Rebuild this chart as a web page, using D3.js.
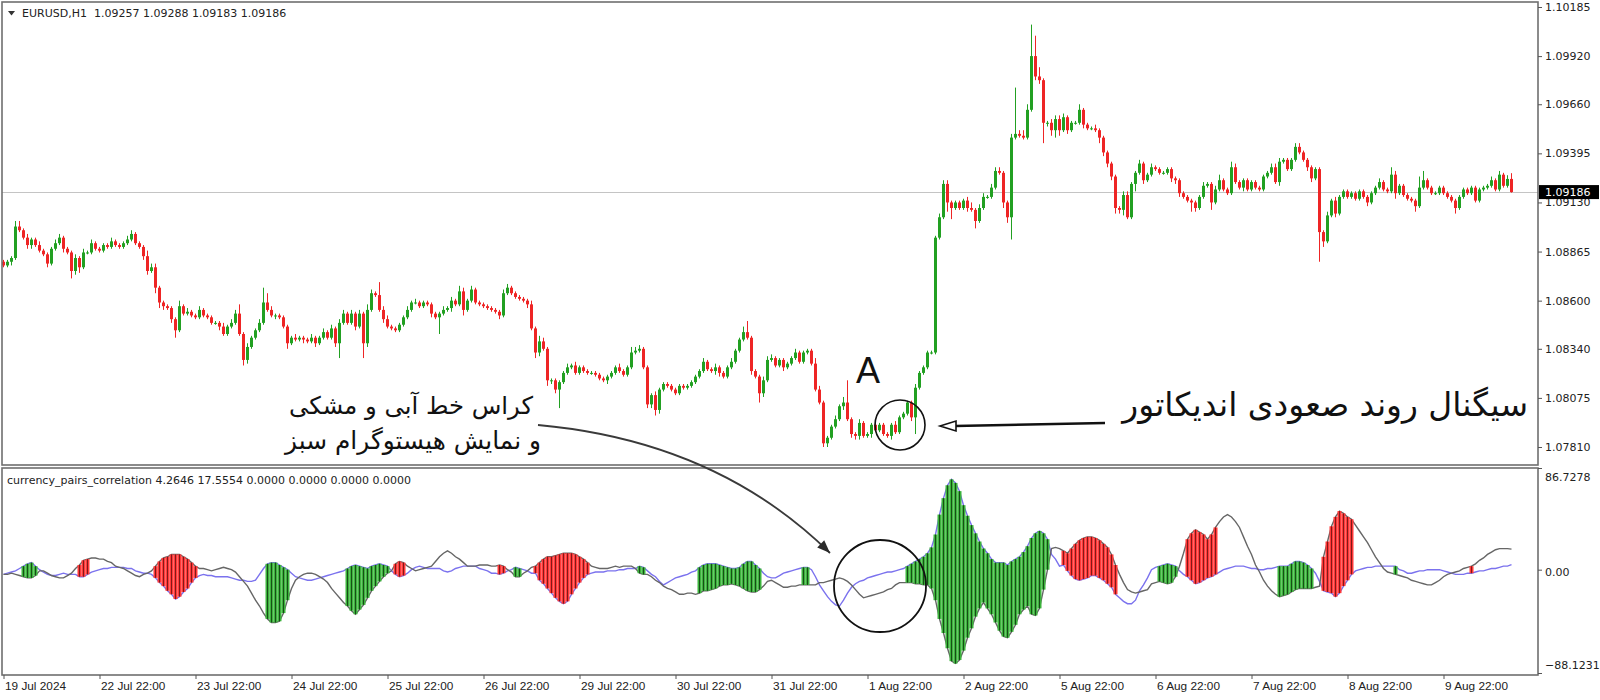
<!DOCTYPE html>
<html><head><meta charset="utf-8">
<script src="https://cdn.jsdelivr.net/npm/d3@7"></script>
<style>body{margin:0;background:#fff;}svg{display:block;}</style>
</head><body>
<svg id="chart" width="1600" height="700"></svg>
<script>
// ---------------- DATA ----------------
const symbolLabel = "EURUSD,H1";
const lastBarOHLC = [1.09257, 1.09288, 1.09183, 1.09186];
const firstOpen = 1.0881;
// hourly closes, 19 Jul 2024 22:00 -> 9 Aug 2024
const closes = [
1.0879,1.0881,1.0883,1.0900,1.0898,1.0894,1.0890,1.0893,1.0890,1.0887,1.0885,1.0880,1.0888,1.0891,1.0894,1.0888,1.0886,1.0876,1.0883,1.0878,1.0886,1.0886,1.0891,1.0888,
1.0887,1.0890,1.0889,1.0892,1.0890,1.0889,1.0891,1.0893,1.0896,1.0891,1.0889,1.0884,1.0876,1.0878,1.0867,1.0859,1.0857,1.0856,1.0850,1.0844,1.0857,1.0853,1.0854,1.0852,
1.0851,1.0855,1.0852,1.0851,1.0848,1.0848,1.0846,1.0842,1.0846,1.0848,1.0853,1.0842,1.0828,1.0835,1.0840,1.0844,1.0848,1.0859,1.0855,1.0852,1.0852,1.0851,1.0846,1.0837,
1.0840,1.0839,1.0840,1.0839,1.0838,1.0840,1.0837,1.0840,1.0843,1.0840,1.0845,1.0837,1.0848,1.0853,1.0848,1.0853,1.0846,1.0853,1.0837,1.0855,1.0864,1.0863,1.0855,1.0850,
1.0846,1.0845,1.0844,1.0847,1.0851,1.0855,1.0859,1.0859,1.0857,1.0859,1.0858,1.0853,1.0851,1.0853,1.0855,1.0856,1.0860,1.0858,1.0865,1.0855,1.0860,1.0866,1.0859,1.0858,
1.0857,1.0856,1.0855,1.0854,1.0852,1.0864,1.0867,1.0864,1.0862,1.0861,1.0860,1.0858,1.0845,1.0832,1.0838,1.0834,1.0817,1.0817,1.0812,1.0816,1.0821,1.0824,1.0825,1.0821,
1.0824,1.0822,1.0821,1.0821,1.0820,1.0818,1.0817,1.0819,1.0821,1.0824,1.0822,1.0820,1.0824,1.0832,1.0833,1.0834,1.0824,1.0804,1.0809,1.0801,1.0812,1.0815,1.0814,1.0812,
1.0810,1.0814,1.0813,1.0814,1.0816,1.0819,1.0822,1.0827,1.0823,1.0822,1.0824,1.0821,1.0819,1.0824,1.0827,1.0833,1.0839,1.0843,1.0840,1.0822,1.0819,1.0810,1.0817,1.0828,
1.0829,1.0825,1.0828,1.0824,1.0826,1.0829,1.0832,1.0827,1.0832,1.0833,1.0826,1.0812,1.0805,1.0783,1.0786,1.0792,1.0796,1.0803,1.0805,1.0796,1.0788,1.0787,1.0794,1.0787,
1.0788,1.0793,1.0790,1.0793,1.0788,1.0787,1.0793,1.0789,1.0797,1.0799,1.0805,1.0797,1.0813,1.0821,1.0824,1.0832,1.0832,1.0894,1.0905,1.0923,1.0913,1.0910,1.0913,1.0910,
1.0914,1.0910,1.0909,1.0903,1.0910,1.0916,1.0916,1.0921,1.0930,1.0929,1.0913,1.0905,1.0948,1.0950,1.0949,1.0948,1.0963,1.0992,1.0981,1.0979,1.0956,1.0956,1.0952,1.0958,
1.0952,1.0959,1.0952,1.0956,1.0956,1.0963,1.0955,1.0953,1.0953,1.0952,1.0948,1.0940,1.0934,1.0927,1.0910,1.0909,1.0917,1.0905,1.0923,1.0929,1.0934,1.0925,1.0928,1.0932,
1.0931,1.0929,1.0929,1.0931,1.0926,1.0925,1.0918,1.0916,1.0914,1.0913,1.0910,1.0916,1.0922,1.0923,1.0913,1.0920,1.0925,1.0920,1.0918,1.0932,1.0924,1.0921,1.0925,1.0920,
1.0924,1.0921,1.0920,1.0927,1.0929,1.0932,1.0924,1.0935,1.0936,1.0931,1.0936,1.0943,1.0940,1.0936,1.0932,1.0926,1.0931,1.0897,1.0892,1.0906,1.0914,1.0907,1.0916,1.0919,
1.0916,1.0918,1.0915,1.0919,1.0916,1.0913,1.0918,1.0921,1.0924,1.0920,1.0919,1.0928,1.0918,1.0922,1.0917,1.0915,1.0914,1.0911,1.0921,1.0925,1.0921,1.0918,1.0918,1.0921,
1.0918,1.0916,1.0914,1.0910,1.0916,1.0920,1.0918,1.0921,1.0914,1.0920,1.0921,1.0922,1.0925,1.0920,1.0928,1.0922,1.09257,1.09186
];
// upper / lower wick lengths in pips
const upperWickPips = [
1,1,1,3,3,1,2,1,1,2,1,1,1,2,2,1,1,1,2,1,2,1,2,1,
1,1,1,2,1,1,1,2,2,1,1,1,3,2,2,1,1,1,1,1,3,1,2,1,
1,2,1,1,1,1,1,2,1,2,2,5,1,2,1,1,2,8,5,2,1,1,1,1,
1,2,1,1,1,2,1,1,2,1,2,1,2,2,1,2,1,2,1,3,2,1,7,2,
2,1,1,1,1,2,1,2,1,1,1,1,1,1,2,1,2,1,3,2,1,2,1,1,
1,1,1,1,1,2,2,1,1,1,1,1,2,1,3,2,1,1,1,1,1,2,1,2,
1,1,1,1,1,1,1,1,1,1,2,1,1,3,2,2,1,1,1,2,1,1,1,1,
1,1,1,1,1,1,1,2,1,1,2,1,1,1,2,1,1,3,6,1,1,1,2,2,
2,1,1,1,1,1,2,1,1,1,1,3,2,1,1,1,2,1,3,12,1,1,2,1,
1,1,1,1,1,1,1,2,1,1,1,1,2,1,1,1,1,1,2,2,2,1,1,1,
1,2,3,1,2,2,1,2,2,2,1,1,2,25,2,3,3,17,11,5,1,1,2,2,
2,2,1,1,1,3,1,1,1,2,1,1,1,1,1,1,2,2,1,1,2,1,1,2,
1,1,1,1,1,1,1,1,1,1,1,1,2,1,1,2,3,1,1,3,2,1,1,1,
1,1,1,1,1,2,2,2,1,1,1,2,2,1,1,1,1,1,1,2,1,2,1,1,
1,1,1,1,1,1,1,1,2,1,1,4,2,1,1,1,1,1,6,5,1,1,1,1,
1,1,1,1,1,1,1,1,1,1,1,1,2,1,2,1,2,3.1
];
const lowerWickPips = [
1,1,2,1,1,1,2,2,1,1,1,2,1,1,1,2,1,4,2,3,1,1,1,1,
1,1,1,1,1,1,1,1,1,1,1,2,2,1,3,3,2,1,2,4,1,1,1,1,
1,1,1,1,1,1,2,1,1,1,1,1,3,2,1,1,1,1,1,1,2,1,1,3,
1,1,1,2,1,1,2,1,1,1,1,2,8,1,1,1,2,1,8,2,1,1,1,2,
1,1,1,1,1,1,1,1,1,1,1,2,1,9,1,1,2,1,1,3,1,1,1,1,
1,1,1,1,2,1,1,1,1,1,1,2,1,3,2,1,3,2,2,10,1,1,1,1,
1,1,1,1,1,1,1,2,1,1,1,1,1,1,1,1,1,2,2,3,2,1,1,1,
1,1,1,1,1,1,1,1,1,1,2,2,1,1,1,1,1,1,1,2,1,5,2,1,
1,1,1,2,1,1,1,1,1,1,1,1,1,2,2,1,1,1,2,1,2,2,2,1,
1,2,1,1,1,1,2,1,1,1,1,2,9,1,1,1,1,1,1,1,5,6,1,1,
1,2,1,4,1,1,1,1,1,1,3,3,12,1,1,1,1,1,2,2,11,2,3,4,
3,1,2,1,1,1,2,1,1,1,3,2,2,2,3,2,3,1,1,4,1,2,1,1,
1,1,1,1,2,2,2,1,1,5,2,1,1,1,4,1,1,1,1,1,1,1,2,1,
1,1,1,1,1,1,1,2,1,1,1,1,1,1,2,2,1,16,3,1,1,2,1,1,
1,1,1,1,1,2,1,1,1,1,1,1,3,1,1,1,1,3,1,1,1,1,1,1,
1,1,1,3,1,1,1,1,1,1,1,1,1,1,1,1,1,0.3
];
// indicator: currency_pairs_correlation
const indicatorName = "currency_pairs_correlation";
const blueLine = [
-4,-3,-2,-1,1,3,5,6,3,0,-2,-4,-5,-5,-4,-3,-4,-4,-4,-6,-6,-4,-2,-1,
0,1,1,2,2,2,2,1,1,-1,-2,-3,-3,-4,-7,-11,-14,-18,-21,-25,-23,-19,-16,-11,
-7,-5,-4,-5,-5,-6,-6,-6,-6,-7,-8,-9,-9,-10,-10,-9,-4,1,5,6,6,4,2,0,
-3,-6,-7,-8,-9,-9,-8,-7,-6,-5,-4,-3,-2,-1,1,3,4,3,2,1,3,4,5,4,
3,-1,-4,-6,-5,-3,0,2,3,2,1,1,1,1,-1,-2,-1,1,2,3,3,3,3,1,
0,-1,-3,-3,-4,-3,-1,0,2,1,0,-1,-3,-3,-9,-12,-16,-20,-24,-27,-29,-27,-21,-16,
-11,-7,-4,-3,-2,-2,-2,-1,-1,-1,0,0,1,1,1,3,2,-1,-4,-6,-10,-13,-11,-9,
-7,-6,-5,-4,-2,-1,2,4,5,5,5,4,3,2,1,1,2,5,7,7,4,1,-3,-6,
-7,-7,-5,-3,-2,-1,0,1,2,2,0,-6,-13,-18,-23,-27,-30,-31,-26,-20,-15,-12,-10,-9,
-7,-6,-5,-4,-3,-2,-2,-1,0,1,3,5,7,9,11,14,19,30,47,61,72,77,74,67,
55,46,38,31,24,18,14,9,6,6,6,4,7,9,11,15,20,27,31,33,31,26,13,9,
3,4,-1,-5,-8,-9,-8,-7,-5,-5,-7,-9,-12,-15,-21,-24,-27,-29,-29,-26,-18,-13,-7,0,
2,3,4,5,4,3,-1,-4,-6,-9,-12,-11,-9,-7,-6,-4,-2,0,1,2,3,3,3,2,
1,1,0,0,1,1,2,3,3,3,5,7,7,6,4,1,-3,-10,-18,-19,-20,-23,-20,-14,
-9,-4,-1,0,1,2,2,3,3,3,3,3,3,0,-1,-3,-3,-2,-1,-1,0,0,0,0,
-1,-2,-3,-4,-4,-4,-3,-3,-2,-1,-1,0,1,1,2,3,3,4.2646
];
const grayLine = [
-4,-4,-3,-4,-5,-6,-7,-7,-5,-1,-1,-3,-5,-6,-7,-7,-5,-3,1,4,8,9,10,10,
9,9,7,6,3,2,1,-1,-3,-5,-6,-4,-3,-1,3,7,10,11,13,13,13,11,9,6,
3,1,1,0,-1,0,1,2,1,0,-2,-6,-10,-14,-20,-26,-31,-37,-42,-45,-45,-44,-37,-26,
-16,-9,-6,-4,-3,-3,-4,-6,-8,-11,-16,-20,-24,-28,-31,-35,-38,-34,-30,-24,-18,-14,-10,-6,
-3,-1,5,7,6,3,1,-1,0,1,2,3,7,11,14,16,14,11,9,6,3,3,3,4,
4,4,3,3,4,3,0,-2,-6,-6,-3,-1,2,3,6,9,11,11,12,13,14,14,14,13,
11,9,6,3,2,1,1,1,2,3,2,3,3,3,1,-3,-4,-4,-6,-9,-11,-14,-16,-17,
-19,-21,-21,-20,-20,-21,-20,-18,-18,-17,-16,-14,-13,-13,-12,-13,-14,-16,-18,-19,-19,-17,-14,-10,
-9,-11,-13,-15,-15,-14,-14,-13,-13,-13,-13,-13,-11,-11,-10,-9,-8,-7,-8,-10,-13,-17,-21,-24,
-23,-22,-21,-20,-19,-17,-16,-13,-11,-11,-11,-11,-12,-12,-13,-13,-16,-26,-42,-54,-67,-78,-80,-77,
-69,-58,-50,-40,-33,-28,-33,-38,-45,-52,-57,-58,-53,-47,-38,-34,-31,-38,-39,-33,-17,0,18,19,
18,16,14,18,22,25,27,28,28,27,25,22,19,13,4,-4,-11,-17,-19,-20,-19,-18,-17,-12,
-11,-10,-11,-12,-11,-6,3,14,26,31,34,32,30,26,30,36,41,45,47,45,41,36,28,20,
13,4,-2,-9,-14,-18,-21,-23,-22,-21,-19,-17,-16,-16,-16,-16,-15,-14,11,24,37,45,50,48,
45,43,38,33,28,23,17,11,6,1,-2,-3,-4,-5,-6,-7,-9,-10,-11,-12,-13,-13,-11,-9,
-6,-4,-3,-2,-1,1,2,3,5,8,10,13,15,17,18,18,18,17.5554
];
// histogram runs (bar index ranges) and their colour kind
const histFrom = [5,19,38,66,86,98,124,128,133,159,174,200,226,265,289,296,319,330,348,367];
const histTo   = [8,21,48,71,96,100,125,129,146,160,189,201,261,278,293,303,327,337,348,367];
const histKind = ["up","down","down","up","up","down","down","up","down","up","up","up","up","down","up","down","up","down","up","down"];
const indicatorExtraValues = [0, 0, 0, 0];
// axes
const priceTicks = [1.10185,1.09920,1.09660,1.09395,1.09130,1.08865,1.08600,1.08340,1.08075,1.07810];
const indicatorTicks = [86.7278, 0, -88.1231];
const dateTickBars = [0,24,48,72,96,120,144,168,192,216,240,264,288,312,336,360];
const dateLabels = ["19 Jul 2024","22 Jul 22:00","23 Jul 22:00","24 Jul 22:00","25 Jul 22:00","26 Jul 22:00","29 Jul 22:00","30 Jul 22:00","31 Jul 22:00","1 Aug 22:00","2 Aug 22:00","5 Aug 22:00","6 Aug 22:00","7 Aug 22:00","8 Aug 22:00","9 Aug 22:00"];
// annotations
const noteSignal = "سیگنال روند صعودی اندیکاتور";
const noteCross1 = "کراس خط آبی و مشکی";
const noteCross2 = "و نمایش هیستوگرام سبز";
const noteA = "A";

// ---------------- CHECKS ----------------
const N = closes.length;
[upperWickPips, lowerWickPips, blueLine, grayLine].forEach((a, k) => {
  if (a.length !== N) throw new Error("length mismatch in array " + k + ": " + a.length + " vs " + N);
});

// ---------------- BUILD ----------------
const candles = closes.map((c, i) => {
  const o = i === 0 ? firstOpen : closes[i - 1];
  return { i, o, c, h: Math.max(o, c) + upperWickPips[i] / 10000, l: Math.min(o, c) - lowerWickPips[i] / 10000 };
});
const histKindAt = new Array(N).fill(null);
histFrom.forEach((f, k) => { for (let i = f; i <= histTo[k]; i++) histKindAt[i] = histKind[k]; });
const histBars = d3.range(N).filter(i => histKindAt[i]).map(i => ({ i, a: blueLine[i], b: grayLine[i], kind: histKindAt[i] }));

const svg = d3.select("#chart");
const FONT = "DejaVu Sans";
const pane1 = { l: 2, r: 1538, t: 2, b: 465 };
const pane2 = { l: 2, r: 1538, t: 468, b: 675 };

const x = d3.scaleLinear().domain([0, N - 1]).range([3.5, 3.5 + 4 * (N - 1)]);
const yP = d3.scaleLinear().domain([1.07810, 1.10185]).range([447, 7]);
const yI = d3.scaleLinear().domain([-88.1231, 86.7278]).range([673, 468]);

const defs = svg.append("defs");
defs.append("clipPath").attr("id", "c1").append("rect").attr("x", pane1.l).attr("y", pane1.t).attr("width", pane1.r - pane1.l).attr("height", pane1.b - pane1.t);
defs.append("clipPath").attr("id", "c2").append("rect").attr("x", pane2.l).attr("y", pane2.t).attr("width", pane2.r - pane2.l).attr("height", pane2.b - pane2.t);

svg.append("rect").attr("width", 1600).attr("height", 700).attr("fill", "#fff");

// current price line
const lastClose = lastBarOHLC[3];
svg.append("line").attr("x1", pane1.l).attr("x2", pane1.r).attr("y1", Math.round(yP(lastClose)) + 0.5).attr("y2", Math.round(yP(lastClose)) + 0.5)
  .attr("stroke", "#c4c4c4").attr("stroke-width", 1);

// candles
const UP = "#22a022", DOWN = "#ee2525";
const gC = svg.append("g").attr("clip-path", "url(#c1)");
const cg = gC.selectAll("g.candle").data(candles).join("g");
cg.append("line").attr("x1", d => x(d.i)).attr("x2", d => x(d.i))
  .attr("y1", d => yP(d.h)).attr("y2", d => yP(d.l))
  .attr("stroke", d => d.c >= d.o ? UP : DOWN).attr("stroke-width", 1);
cg.append("rect").attr("x", d => x(d.i) - 1.5).attr("width", 3)
  .attr("y", d => yP(Math.max(d.o, d.c)))
  .attr("height", d => Math.max(1, yP(Math.min(d.o, d.c)) - yP(Math.max(d.o, d.c))))
  .attr("fill", d => d.c >= d.o ? UP : DOWN);

// indicator lines
const gI = svg.append("g").attr("clip-path", "url(#c2)");
const lineGen = arr => d3.line().x((d, i) => x(i)).y(d => yI(d))(arr);
gI.append("path").attr("d", lineGen(blueLine)).attr("fill", "none").attr("stroke", "#7b72ee").attr("stroke-width", 1.4);
gI.append("path").attr("d", lineGen(grayLine)).attr("fill", "none").attr("stroke", "#666").attr("stroke-width", 1.4);
// histogram
const hg = gI.selectAll("g.hist").data(histBars).join("g");
hg.append("rect").attr("x", d => x(d.i) - 2).attr("width", 4)
  .attr("y", d => yI(Math.max(d.a, d.b))).attr("height", d => Math.max(1, yI(Math.min(d.a, d.b)) - yI(Math.max(d.a, d.b))))
  .attr("fill", d => d.kind === "up" ? "#3cb43c" : "#ff3838");
hg.append("line").attr("x1", d => x(d.i)).attr("x2", d => x(d.i))
  .attr("y1", d => yI(Math.max(d.a, d.b))).attr("y2", d => yI(Math.min(d.a, d.b)))
  .attr("stroke", d => d.kind === "up" ? "#103a10" : "#6a1414").attr("stroke-width", 0.85);

// pane frames
[pane1, pane2].forEach(p => svg.append("rect").attr("x", p.l).attr("y", p.t).attr("width", p.r - p.l).attr("height", p.b - p.t)
  .attr("fill", "none").attr("stroke", "#6f6f6f").attr("stroke-width", 1.6));

// price axis
const axP = svg.append("g").attr("transform", `translate(${pane1.r},0)`)
  .call(d3.axisRight(yP).tickValues(priceTicks).tickSize(4).tickFormat(d3.format(".5f")));
axP.select(".domain").remove();
axP.selectAll("text").attr("font-family", FONT).attr("font-size", 11).attr("fill", "#222");
axP.selectAll("line").attr("stroke", "#555");
// current price tag
const ty = yP(lastClose);
svg.append("rect").attr("x", pane1.r + 1).attr("y", ty - 7).attr("width", 60).attr("height", 14).attr("fill", "#000");
svg.append("text").attr("x", pane1.r + 7).attr("y", ty).attr("dy", "0.35em").attr("font-family", FONT).attr("font-size", 11)
  .attr("fill", "#fff").text(d3.format(".5f")(lastClose));

// indicator axis
const axI = svg.append("g").attr("transform", `translate(${pane2.r},0)`)
  .call(d3.axisRight(yI).tickValues(indicatorTicks).tickSize(4).tickFormat(d => d === 0 ? "0.00" : d3.format(".4f")(d)));
axI.select(".domain").remove();
axI.selectAll("text").attr("font-family", FONT).attr("font-size", 11).attr("fill", "#222")
  .attr("dy", d => d > 0 ? "1.1em" : d < 0 ? "-0.45em" : "0.5em");
axI.selectAll("line").attr("stroke", "#555");

// date axis
const axD = svg.append("g").attr("transform", `translate(0,${pane2.b})`)
  .call(d3.axisBottom(x).tickValues(dateTickBars).tickSize(4).tickFormat((d, i) => dateLabels[i]));
axD.select(".domain").remove();
axD.selectAll("text").attr("font-family", "Liberation Sans").attr("font-size", 11.8).attr("fill", "#222")
  .attr("text-anchor", "start").attr("x", 1);
axD.selectAll("line").attr("stroke", "#555");

// headers
svg.append("path").attr("d", "M8,11 L15,11 L11.5,15.5 Z").attr("fill", "#333");
svg.append("text").attr("x", 22).attr("y", 17).attr("font-family", FONT).attr("font-size", 11).attr("fill", "#222")
  .attr("xml:space", "preserve")
  .text(symbolLabel + "  " + lastBarOHLC.map(d3.format(".5f")).join(" "));
svg.append("text").attr("x", 7).attr("y", 484).attr("font-family", FONT).attr("font-size", 11).attr("fill", "#222")
  .text([indicatorName, d3.format(".4f")(blueLine[N - 1]), d3.format(".4f")(grayLine[N - 1])]
    .concat(indicatorExtraValues.map(d3.format(".4f"))).join(" "));

// ---------------- ANNOTATIONS ----------------
function fitWidth(sel, target) {
  const w = sel.node().getComputedTextLength();
  const fs = parseFloat(sel.attr("font-size"));
  if (w > 0) sel.attr("font-size", fs * target / w);
}
const ann = svg.append("g");
ann.append("text").attr("x", 868).attr("y", 383).attr("text-anchor", "middle").attr("font-family", "Liberation Sans")
  .attr("font-size", 36).attr("fill", "#111").text(noteA);
ann.append("circle").attr("cx", 900).attr("cy", 425).attr("r", 25).attr("fill", "none").attr("stroke", "#111").attr("stroke-width", 1.6);
ann.append("circle").attr("cx", 880).attr("cy", 586).attr("r", 46).attr("fill", "none").attr("stroke", "#111").attr("stroke-width", 1.8);
// straight arrow
ann.append("line").attr("x1", 1105).attr("y1", 423).attr("x2", 955).attr("y2", 426).attr("stroke", "#111").attr("stroke-width", 2.6);
ann.append("path").attr("d", "M940,426 L956,421 L956,431 Z").attr("fill", "#fff").attr("stroke", "#111").attr("stroke-width", 1.6);
// curved arrow
const P0 = [538, 425], P1 = [716, 441], P2 = [830, 553];
ann.append("path").attr("d", `M${P0} Q${P1} ${P2}`).attr("fill", "none").attr("stroke", "#3a3a3a").attr("stroke-width", 1.8);
{
  const dx = P2[0] - P1[0], dy = P2[1] - P1[1], L = Math.hypot(dx, dy);
  const ux = dx / L, uy = dy / L, bx = P2[0] - 13 * ux, by = P2[1] - 13 * uy;
  ann.append("path").attr("d", `M${P2[0]},${P2[1]} L${bx - 5 * uy},${by + 5 * ux} L${bx + 5 * uy},${by - 5 * ux} Z`).attr("fill", "#2a2a2a");
}
const t1 = ann.append("text").attr("x", 1528).attr("y", 416).attr("text-anchor", "end").attr("font-family", FONT)
  .attr("font-size", 34).attr("fill", "#111").text(noteSignal);
fitWidth(t1, 406);
const t2 = ann.append("text").attr("x", 533).attr("y", 414).attr("text-anchor", "end").attr("font-family", FONT)
  .attr("font-size", 26).attr("fill", "#111").text(noteCross1);
fitWidth(t2, 244);
const t3 = ann.append("text").attr("x", 541).attr("y", 449).attr("text-anchor", "end").attr("font-family", FONT)
  .attr("font-size", 26).attr("fill", "#111").text(noteCross2);
fitWidth(t3, 256);
</script>
</body></html>
